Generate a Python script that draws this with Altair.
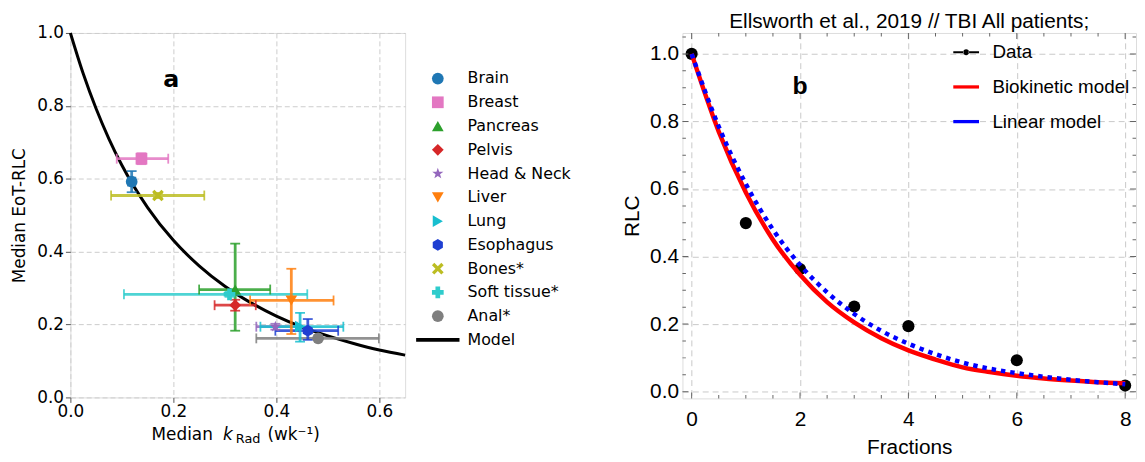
import altair as alt
import pandas as pd

# ---------------- panel a data ----------------
organs = ["Brain", "Breast", "Pancreas", "Pelvis", "Head & Neck", "Liver", "Lung",
          "Esophagus", "Bones*", "Soft tissue*", "Anal*"]
k_med = [0.119, 0.138, 0.320, 0.320, 0.398, 0.429, 0.446, 0.461, 0.170, 0.309, 0.481]
k_lo = [0.112, 0.090, 0.250, 0.280, 0.361, 0.349, 0.369, 0.398, 0.079, 0.104, 0.361]
k_hi = [0.126, 0.190, 0.388, 0.360, 0.440, 0.511, 0.530, 0.520, 0.260, 0.460, 0.599]
rlc_med = [0.592, 0.655, 0.296, 0.253, 0.194, 0.266, 0.194, 0.183, 0.554, 0.283, 0.162]
rlc_lo = [0.563, 0.640, 0.183, 0.238, 0.186, 0.174, 0.153, 0.158, 0.547, 0.276, 0.158]
rlc_hi = [0.621, 0.670, 0.422, 0.268, 0.202, 0.353, 0.232, 0.215, 0.561, 0.290, 0.166]
organ_colors = ["#1f77b4", "#e377c2", "#2ca02c", "#d62728", "#9467bd", "#ff7f0e", "#17becf",
                "#1f3fd2", "#bcbd22", "#2fcccc", "#7f7f7f"]
STAR = ("M0,-1 L0.235,-0.324 L0.951,-0.309 L0.380,0.124 L0.588,0.809 L0,0.4 "
        "L-0.588,0.809 L-0.380,0.124 L-0.951,-0.309 L-0.235,-0.324 Z")
HEX = "M0,-1 L0.866,-0.5 L0.866,0.5 L0,1 L-0.866,0.5 L-0.866,-0.5 Z"
XMARK = ("M-0.6,-1 L0,-0.4 L0.6,-1 L1,-0.6 L0.4,0 L1,0.6 L0.6,1 L0,0.4 L-0.6,1 "
         "L-1,0.6 L-0.4,0 L-1,-0.6 Z")
LINE_A = "M-3.7,-0.32 L3.7,-0.32 L3.7,0.32 L-3.7,0.32 Z"
organ_shapes = ["circle", "square", "triangle-up", "diamond", STAR, "triangle-down",
                "triangle-right", HEX, XMARK, "cross", "circle"]
organ_sizes = [140, 140, 150, 240, 160, 140, 140, 140, 120, 160, 120]

model_k = [0.0, 0.025, 0.05, 0.075, 0.10, 0.15, 0.20, 0.25, 0.30, 0.35, 0.40, 0.45,
           0.50, 0.55, 0.60, 0.65]
model_rlc = [1.0, 0.888, 0.792, 0.709, 0.637, 0.521, 0.431, 0.361, 0.305, 0.260, 0.223,
             0.193, 0.169, 0.148, 0.130, 0.116]

# ---------------- panel b data ----------------
fractions = [0, 1, 2, 3, 4, 6, 8]
rlc_data = [1.0, 0.499, 0.363, 0.252, 0.194, 0.093, 0.018]
curve_f = [0, 0.5, 1, 1.5, 2, 2.5, 3, 3.5, 4, 4.5, 5, 5.5, 6, 6.5, 7, 7.5, 8]
bio_rlc = [1.0, 0.77, 0.59, 0.45, 0.346, 0.265, 0.205, 0.158, 0.122, 0.095, 0.072,
           0.058, 0.047, 0.039, 0.033, 0.028, 0.025]
lin_rlc = [1.0, 0.785, 0.615, 0.48, 0.375, 0.294, 0.23, 0.18, 0.142, 0.111, 0.086,
           0.068, 0.055, 0.044, 0.035, 0.028, 0.022]
series_names = ["Data", "Biokinetic model", "Linear model"]
series_colors = ["#000000", "#ff0000", "#0000ff"]
DATA_SYM = ("M-2.6,-0.2 L-0.5,-0.2 L-0.5,0.2 L-2.6,0.2 Z M0.5,-0.2 L2.6,-0.2 L2.6,0.2 "
            "L0.5,0.2 Z M-0.6,0 A0.6,0.6 0 1,0 0.6,0 A0.6,0.6 0 1,0 -0.6,0 Z")
LINE_B = "M-2.6,-0.33 L2.6,-0.33 L2.6,0.33 L-2.6,0.33 Z"
series_shapes = [DATA_SYM, LINE_B, LINE_B]

x_major = [0, 2, 4, 6, 8]
x_minor = [0.5, 1, 1.5, 2.5, 3, 3.5, 4.5, 5, 5.5, 6.5, 7, 7.5]
y_major = [0.0, 0.2, 0.4, 0.6, 0.8, 1.0]
y_minor = [0.05, 0.1, 0.15, 0.25, 0.3, 0.35, 0.45, 0.5, 0.55, 0.65, 0.7, 0.75,
           0.85, 0.9, 0.95, 1.05]
title_b = "Ellsworth et al., 2019 // TBI All patients;"

FA = "DejaVu Sans"
FB = "Liberation Sans"

# ================= panel a =================
W1, H1 = 338, 368
df = pd.DataFrame({"organ": organs, "k": k_med, "klo": k_lo, "khi": k_hi,
                   "r": rlc_med, "rlo": rlc_lo, "rhi": rlc_hi})
dfm = pd.DataFrame({"k": model_k, "r": model_rlc})

xs = alt.Scale(domain=[0, 0.65], nice=False, zero=False)
ys = alt.Scale(domain=[0, 1.0], nice=False, zero=False)
cscale = alt.Scale(domain=organs + ["Model"], range=organ_colors + ["#000000"])
sscale = alt.Scale(domain=organs + ["Model"], range=organ_shapes + [LINE_A])
zscale = alt.Scale(domain=organs + ["Model"], range=organ_sizes + [100])

legA = alt.Legend(orient="none", legendX=363, legendY=38, title=None, labelFont=FA,
                  labelFontSize=16, labelColor="#000000", rowPadding=8,
                  labelOffset=22, padding=0, symbolStrokeWidth=0, symbolOpacity=1)

xaxA = alt.Axis(values=[0, 0.2, 0.4, 0.6], format=".1f", title=None, labelFont=FA,
                labelFontSize=17, labelColor="#000000", grid=True, gridDash=[5, 3],
                gridColor="#cccccc", tickColor="#555555", tickSize=5, domain=False,
                labelPadding=1, labelFlush=False, labelOverlap=False)
yaxA = alt.Axis(values=y_major, format=".1f", title="Median EoT-RLC", titleFont=FA,
                titleFontSize=17, titleFontWeight="normal", titleColor="#000000",
                titlePadding=8, labelFont=FA, labelFontSize=17, labelColor="#000000",
                grid=True, gridDash=[5, 3], gridColor="#cccccc", tickColor="#555555",
                tickSize=5, domain=False, labelPadding=2, labelFlush=False,
                labelOverlap=False)


def XA(f):
    return alt.X(f, scale=xs, axis=xaxA)


def YA(f):
    return alt.Y(f, scale=ys, axis=yaxA)


base = alt.Chart(df)
colA = alt.Color("organ:N", scale=cscale, legend=legA)

model_line = alt.Chart(dfm).mark_line(color="#000000", strokeWidth=3,
                                      interpolate="monotone").encode(
    x=XA("k:Q"), y=YA("r:Q"))

xerr = base.mark_rule(strokeWidth=2.8, opacity=0.85).encode(
    x=XA("klo:Q"), x2="khi:Q", y=YA("r:Q"), color=colA)
yerr = base.mark_rule(strokeWidth=2.8, opacity=0.85).encode(
    x=XA("k:Q"), y=YA("rlo:Q"), y2="rhi:Q", color=colA)
cap_kw = dict(size=10, thickness=1.8, opacity=0.85)
xcap1 = base.mark_tick(orient="vertical", **cap_kw).encode(
    x=XA("klo:Q"), y=YA("r:Q"), color=colA)
xcap2 = base.mark_tick(orient="vertical", **cap_kw).encode(
    x=XA("khi:Q"), y=YA("r:Q"), color=colA)
ycap1 = base.mark_tick(orient="horizontal", **cap_kw).encode(
    x=XA("k:Q"), y=YA("rlo:Q"), color=colA)
ycap2 = base.mark_tick(orient="horizontal", **cap_kw).encode(
    x=XA("k:Q"), y=YA("rhi:Q"), color=colA)
pts = base.mark_point(filled=True, opacity=1, strokeWidth=0).encode(
    x=XA("k:Q"), y=YA("r:Q"),
    color=colA,
    shape=alt.Shape("organ:N", scale=sscale, legend=legA),
    size=alt.Size("organ:N", scale=zscale, legend=legA))

lab_a = alt.Chart(pd.DataFrame({"k": [0.196], "r": [0.87], "t": ["a"]})).mark_text(
    font=FA, fontSize=24, fontWeight="bold", color="#000000").encode(
    x=XA("k:Q"), y=YA("r:Q"), text="t:N")

tkw = dict(font=FA, color="#000000", align="left", baseline="alphabetic")
t1 = alt.Chart(pd.DataFrame({"t": ["Median"]})).mark_text(fontSize=17, **tkw).encode(
    text="t:N", x=alt.value(82), y=alt.value(411))
t2 = alt.Chart(pd.DataFrame({"t": ["k"]})).mark_text(fontSize=17, fontStyle="italic",
                                                     **tkw).encode(
    text="t:N", x=alt.value(154), y=alt.value(411))
t3 = alt.Chart(pd.DataFrame({"t": ["Rad"]})).mark_text(fontSize=13, **tkw).encode(
    text="t:N", x=alt.value(167), y=alt.value(414))
t4 = alt.Chart(pd.DataFrame({"t": ["(wk⁻¹)"]})).mark_text(fontSize=17, **tkw).encode(
    text="t:N", x=alt.value(199), y=alt.value(411))

panel_a = alt.layer(model_line, xerr, yerr, xcap1, xcap2, ycap1, ycap2, pts, lab_a,
                    t1, t2, t3, t4).properties(width=W1, height=H1)

# ================= panel b =================
W2, H2 = 458, 369
fxs = alt.Scale(domain=[-0.17, 8.2], nice=False, zero=False)
fys = alt.Scale(domain=[-0.02, 1.062], nice=False, zero=False)

dfd = pd.DataFrame({"f": fractions, "r": rlc_data})
dfc = pd.DataFrame({"f": curve_f, "bio": bio_rlc, "lin": lin_rlc})

xaxB = alt.Axis(values=x_major, format="d", title="Fractions", titleFont=FB,
                titleFontSize=21, titleFontWeight="normal", titleColor="#000000",
                titlePadding=8, labelFont=FB, labelFontSize=21, labelColor="#000000",
                ticks=False, domain=False, grid=True, gridDash=[6, 4],
                gridColor="#c8c8c8", labelPadding=10, labelFlush=False)
yaxB = alt.Axis(values=y_major, format=".1f", title="RLC", titleFont=FB,
                titleFontSize=21, titleFontWeight="normal", titleColor="#000000",
                titlePadding=7, labelFont=FB, labelFontSize=21, labelColor="#000000",
                ticks=False, domain=False, grid=True, gridDash=[6, 4],
                gridColor="#c8c8c8", labelPadding=4, labelFlush=False)


def XB(f):
    return alt.X(f, scale=fxs, axis=xaxB)


def YB(f):
    return alt.Y(f, scale=fys, axis=yaxB)


data_pts = alt.Chart(dfd).mark_circle(color="#000000", size=150, opacity=1).encode(
    x=XB("f:Q"), y=YB("r:Q"))
bio_line = alt.Chart(dfc).mark_line(color="#ff0000", strokeWidth=4.5,
                                    interpolate="monotone").encode(
    x=XB("f:Q"), y=YB("bio:Q"))
lin_line = alt.Chart(dfc).mark_line(color="#0000ff", strokeWidth=4.5, strokeDash=[4.5, 5],
                                    interpolate="monotone").encode(
    x=XB("f:Q"), y=YB("lin:Q"))

legB = alt.Legend(orient="none", legendX=277, legendY=10, title=None, labelFont=FB,
                  labelFontSize=19, labelColor="#000000", symbolSize=100, rowPadding=15,
                  labelOffset=17, padding=0, symbolStrokeWidth=0, symbolOpacity=1)
leg_df = pd.DataFrame({"series": series_names, "f": [0, 0, 0], "r": [0, 0, 0]})
leg_layer = alt.Chart(leg_df).transform_filter("false").mark_point(
    filled=True, opacity=1).encode(
    x=XB("f:Q"), y=YB("r:Q"),
    color=alt.Color("series:N", scale=alt.Scale(domain=series_names, range=series_colors),
                    legend=legB),
    shape=alt.Shape("series:N", scale=alt.Scale(domain=series_names, range=series_shapes),
                    legend=legB))

lab_b = alt.Chart(pd.DataFrame({"f": [2.0], "r": [0.905], "t": ["b"]})).mark_text(
    font=FB, fontSize=25, fontWeight="bold", color="#000000").encode(
    x=XB("f:Q"), y=YB("r:Q"), text="t:N")

ttl_b = alt.Chart(pd.DataFrame({"t": [title_b]})).mark_text(
    font=FB, fontSize=21, color="#000000", align="center", baseline="alphabetic").encode(
    text="t:N", x=alt.value(W2 / 2), y=alt.value(-5))

tick_col = "#666666"


def xticks(vals, size, at):
    return alt.Chart(pd.DataFrame({"v": vals})).mark_tick(
        orient="vertical", clip=True, size=size, thickness=1, color=tick_col, opacity=1).encode(
        x=XB("v:Q"), y=alt.value(at))


def yticks(vals, size, at):
    return alt.Chart(pd.DataFrame({"v": vals})).mark_tick(
        orient="horizontal", clip=True, size=size, thickness=1, color=tick_col, opacity=1).encode(
        y=YB("v:Q"), x=alt.value(at))


tick_layers = [xticks(x_major, 12, 0), xticks(x_major, 12, H2),
               xticks(x_minor, 7, 0), xticks(x_minor, 7, H2),
               yticks(y_major, 12, 0), yticks(y_major, 12, W2),
               yticks(y_minor, 7, 0), yticks(y_minor, 7, W2)]

panel_b = alt.layer(data_pts, bio_line, lin_line, lab_b, leg_layer, ttl_b,
                    *tick_layers).properties(width=W2, height=H2)

chart = alt.hconcat(panel_a, panel_b, spacing=280, bounds="flush").resolve_scale(
    color="independent", shape="independent", size="independent").properties(
    padding={"left": 2, "top": 0, "right": 0, "bottom": 0}).configure_view(
    stroke="#555555", strokeWidth=1.3).configure(background="white")

chart.save("out.html", embed_options={"renderer": "svg", "actions": False})
